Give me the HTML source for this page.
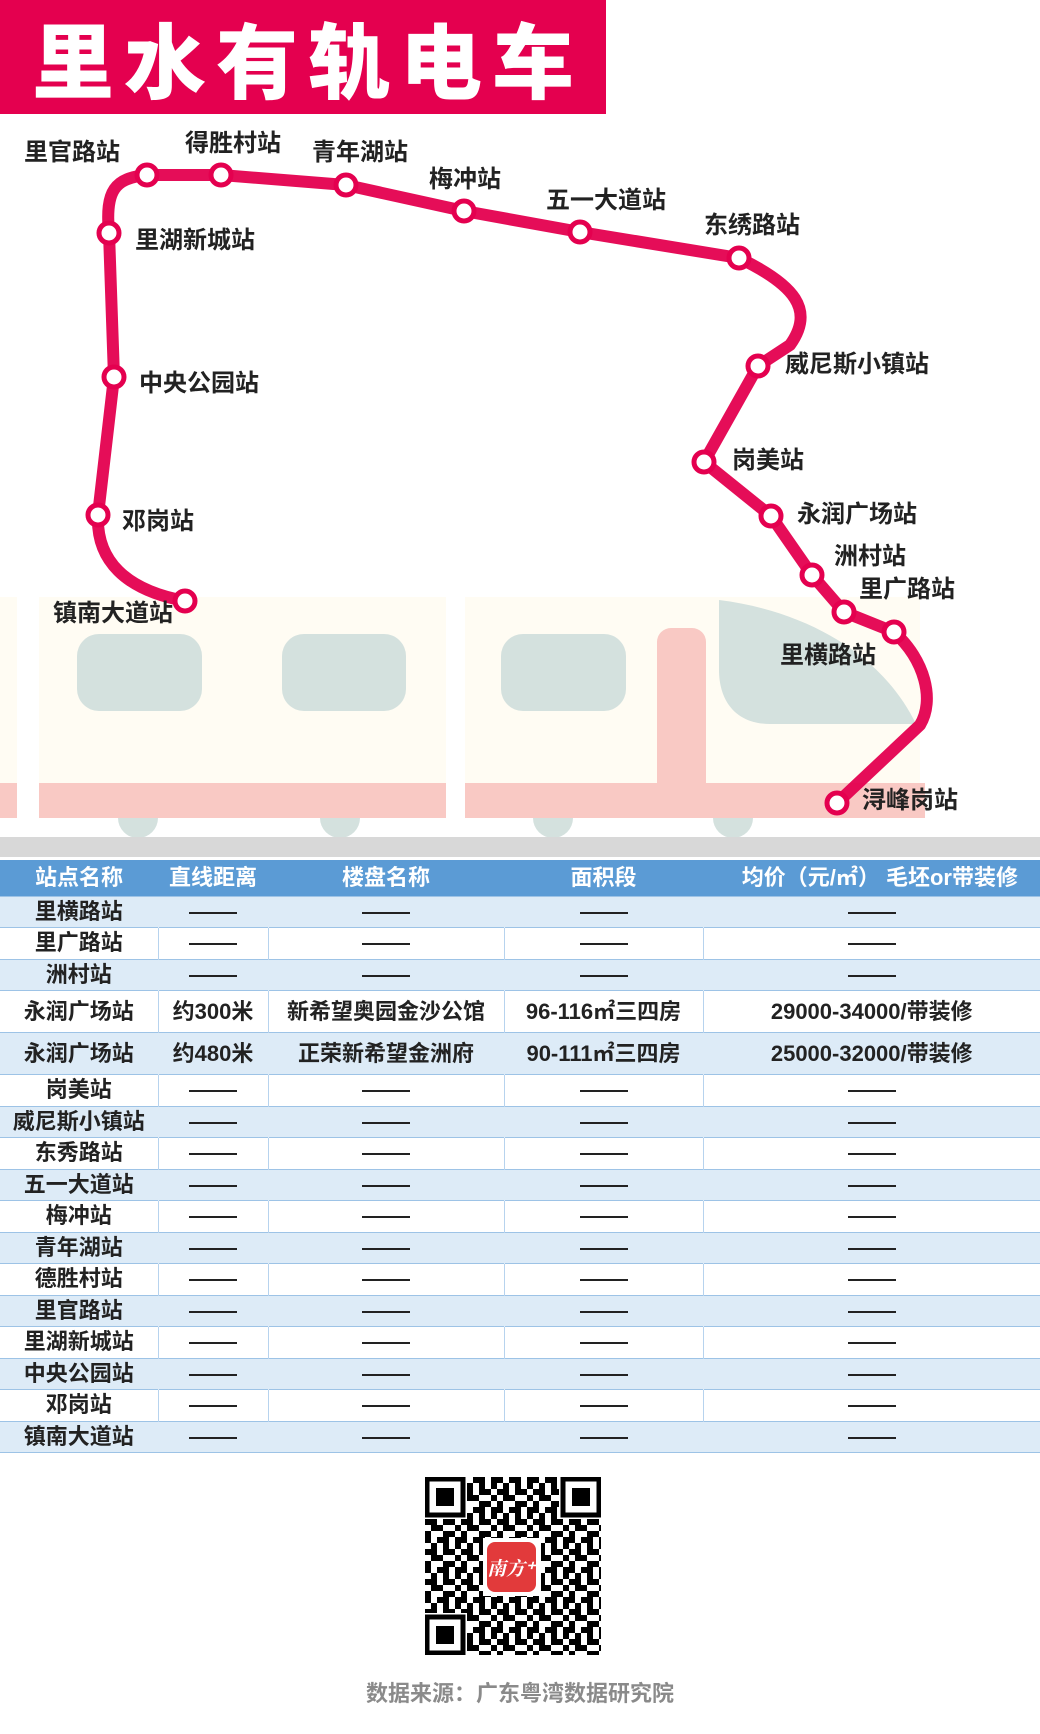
<!DOCTYPE html>
<html><head><meta charset="utf-8">
<style>
*{margin:0;padding:0;box-sizing:border-box}
body{width:1040px;height:1734px;background:#fff;position:relative;overflow:hidden;font-family:"Liberation Sans","Noto Sans CJK SC",sans-serif}
.ab{position:absolute}
.title{left:0;top:0;width:606px;height:114px;background:#e4004f;color:#fff;font-size:82px;font-weight:900;letter-spacing:10px;line-height:114px;padding-left:32px;font-family:"Noto Sans CJK SC",sans-serif}
.lb{position:absolute;font-size:24px;font-weight:bold;color:#222;line-height:24px;white-space:nowrap;font-family:"Liberation Sans","Noto Sans CJK SC",sans-serif;transform:translateY(-50%)}
table{position:absolute;left:0;top:860px;width:1040px;border-collapse:collapse;table-layout:fixed;font-weight:bold;font-size:22px;line-height:22px;color:#222;font-family:"Liberation Sans","Noto Sans CJK SC",sans-serif}
th{background:#5b9bd5;color:#fff;height:36px;font-size:22px;font-weight:bold}
tr{height:31.5px}
td{text-align:center;height:31.5px;border-top:1px solid #9dc3e6;border-left:1px solid #b7d3ee;white-space:nowrap;padding:0;overflow:hidden}
td:first-child{border-left:none}
tr.b td{background:#ddebf7;border-left-color:#ddebf7}
tr.t{height:42px}
tr.t td{height:42px}
.d{display:inline-block;width:48px;border-top:2px solid #222;vertical-align:middle}
.foot{left:0;width:1040px;top:1676px;text-align:center;font-size:22px;font-weight:bold;color:#8a8a8a}
</style></head><body>
<div class="ab title">里水有轨电车</div>

<svg class="ab" style="left:0;top:0" width="1040" height="860">
 <rect x="0" y="597" width="17" height="221" fill="#fffcf3"/>
 <rect x="39" y="597" width="407" height="221" fill="#fffcf3"/>
 <rect x="465" y="597" width="455" height="221" fill="#fffcf3"/>
 <rect x="0" y="783" width="17" height="35" fill="#f9c9c4"/>
 <rect x="39" y="783" width="407" height="35" fill="#f9c9c4"/>
 <rect x="465" y="783" width="460" height="35" fill="#f9c9c4"/>
 <rect x="657" y="628" width="49" height="190" rx="14" fill="#f9c9c4"/>
 <rect x="77" y="634" width="125" height="77" rx="22" fill="#d4e1de"/>
 <rect x="282" y="634" width="124" height="77" rx="22" fill="#d4e1de"/>
 <rect x="501" y="634" width="125" height="77" rx="22" fill="#d4e1de"/>
 <path d="M719,600 C800,610 880,650 916,724 L770,724 C735,724 719,700 719,670 Z" fill="#d4e1de"/>
 <g fill="#d4e1de">
  <path d="M118,818 a20,20 0 0 0 40,0 Z"/><path d="M320,818 a20,20 0 0 0 40,0 Z"/>
  <path d="M533,818 a20,20 0 0 0 40,0 Z"/><path d="M713,818 a20,20 0 0 0 40,0 Z"/>
 </g>
 <rect x="0" y="837" width="1040" height="20" fill="#d8d8d8"/>
 <path d="M185,601 C125,590 96,560 98,515 L114,377 L109,233 C105,190 115,178 147,175 L221,175 L346,185 L464,211 L580,232 L739,258 C795,285 815,310 790,345 L758,366 L704,462 L771,516 L812,575 L844,612 L894,632 C925,660 935,700 920,725 L837,803" fill="none" stroke="#e4004f" stroke-width="12" stroke-linejoin="round" opacity="0.95"/>
 <g fill="#fff" stroke="#e4004f" stroke-width="5">
  <circle cx="147" cy="175" r="10"/><circle cx="221" cy="175" r="10"/><circle cx="346" cy="185" r="10"/>
  <circle cx="464" cy="211" r="10"/><circle cx="580" cy="232" r="10"/><circle cx="739" cy="258" r="10"/>
  <circle cx="758" cy="366" r="10"/><circle cx="704" cy="462" r="10"/><circle cx="771" cy="516" r="10"/>
  <circle cx="812" cy="575" r="10"/><circle cx="844" cy="612" r="10"/><circle cx="894" cy="632" r="10"/>
  <circle cx="837" cy="803" r="10"/><circle cx="109" cy="233" r="10"/><circle cx="114" cy="377" r="10"/>
  <circle cx="98" cy="515" r="10"/><circle cx="185" cy="601" r="10"/>
 </g>
</svg>

<div class="lb" style="left:24px;top:153px">里官路站</div>
<div class="lb" style="left:185px;top:144px">得胜村站</div>
<div class="lb" style="left:312px;top:153px">青年湖站</div>
<div class="lb" style="left:429px;top:180px">梅冲站</div>
<div class="lb" style="left:546px;top:201px">五一大道站</div>
<div class="lb" style="left:704px;top:226px">东绣路站</div>
<div class="lb" style="left:135px;top:241px">里湖新城站</div>
<div class="lb" style="left:139px;top:384px">中央公园站</div>
<div class="lb" style="left:122px;top:522px">邓岗站</div>
<div class="lb" style="left:53px;top:614px">镇南大道站</div>
<div class="lb" style="left:785px;top:365px">威尼斯小镇站</div>
<div class="lb" style="left:732px;top:461px">岗美站</div>
<div class="lb" style="left:797px;top:515px">永润广场站</div>
<div class="lb" style="left:834px;top:557px">洲村站</div>
<div class="lb" style="left:859px;top:590px">里广路站</div>
<div class="lb" style="left:780px;top:656px">里横路站</div>
<div class="lb" style="left:862px;top:801px">浔峰岗站</div>

<table>
<colgroup><col style="width:158px"><col style="width:110px"><col style="width:236px"><col style="width:199px"><col style="width:337px"></colgroup>
<tr style="height:36px"><th>站点名称</th><th>直线距离</th><th>楼盘名称</th><th>面积段</th><th style="text-align:right;padding-right:22px">均价（元/㎡） 毛坯or带装修</th></tr>
<tr class="b"><td>里横路站</td><td><span class="d"></span></td><td><span class="d"></span></td><td><span class="d"></span></td><td><span class="d"></span></td></tr>
<tr><td>里广路站</td><td><span class="d"></span></td><td><span class="d"></span></td><td><span class="d"></span></td><td><span class="d"></span></td></tr>
<tr class="b"><td>洲村站</td><td><span class="d"></span></td><td><span class="d"></span></td><td><span class="d"></span></td><td><span class="d"></span></td></tr>
<tr class="t"><td>永润广场站</td><td>约300米</td><td>新希望奥园金沙公馆</td><td>96-116㎡三四房</td><td>29000-34000/带装修</td></tr>
<tr class="t b"><td>永润广场站</td><td>约480米</td><td>正荣新希望金洲府</td><td>90-111㎡三四房</td><td>25000-32000/带装修</td></tr>
<tr><td>岗美站</td><td><span class="d"></span></td><td><span class="d"></span></td><td><span class="d"></span></td><td><span class="d"></span></td></tr>
<tr class="b"><td>威尼斯小镇站</td><td><span class="d"></span></td><td><span class="d"></span></td><td><span class="d"></span></td><td><span class="d"></span></td></tr>
<tr><td>东秀路站</td><td><span class="d"></span></td><td><span class="d"></span></td><td><span class="d"></span></td><td><span class="d"></span></td></tr>
<tr class="b"><td>五一大道站</td><td><span class="d"></span></td><td><span class="d"></span></td><td><span class="d"></span></td><td><span class="d"></span></td></tr>
<tr><td>梅冲站</td><td><span class="d"></span></td><td><span class="d"></span></td><td><span class="d"></span></td><td><span class="d"></span></td></tr>
<tr class="b"><td>青年湖站</td><td><span class="d"></span></td><td><span class="d"></span></td><td><span class="d"></span></td><td><span class="d"></span></td></tr>
<tr><td>德胜村站</td><td><span class="d"></span></td><td><span class="d"></span></td><td><span class="d"></span></td><td><span class="d"></span></td></tr>
<tr class="b"><td>里官路站</td><td><span class="d"></span></td><td><span class="d"></span></td><td><span class="d"></span></td><td><span class="d"></span></td></tr>
<tr><td>里湖新城站</td><td><span class="d"></span></td><td><span class="d"></span></td><td><span class="d"></span></td><td><span class="d"></span></td></tr>
<tr class="b"><td>中央公园站</td><td><span class="d"></span></td><td><span class="d"></span></td><td><span class="d"></span></td><td><span class="d"></span></td></tr>
<tr><td>邓岗站</td><td><span class="d"></span></td><td><span class="d"></span></td><td><span class="d"></span></td><td><span class="d"></span></td></tr>
<tr class="b"><td style="border-bottom:1px solid #9dc3e6">镇南大道站</td><td style="border-bottom:1px solid #9dc3e6"><span class="d"></span></td><td style="border-bottom:1px solid #9dc3e6"><span class="d"></span></td><td style="border-bottom:1px solid #9dc3e6"><span class="d"></span></td><td style="border-bottom:1px solid #9dc3e6"><span class="d"></span></td></tr>
</table>

<svg class="ab" style="left:425px;top:1477px" width="176" height="178" viewBox="0 0 176 178">
 <defs>
  <pattern id="q" width="36" height="30" patternUnits="userSpaceOnUse">
   <rect x="0" y="0" width="6" height="6"/><rect x="12" y="0" width="12" height="6"/><rect x="30" y="0" width="6" height="12"/>
   <rect x="6" y="6" width="6" height="6"/><rect x="18" y="6" width="6" height="12"/>
   <rect x="0" y="12" width="12" height="6"/><rect x="24" y="12" width="6" height="6"/>
   <rect x="6" y="18" width="6" height="6"/><rect x="12" y="18" width="6" height="6"/><rect x="30" y="18" width="6" height="6"/>
   <rect x="0" y="24" width="6" height="6"/><rect x="18" y="24" width="12" height="6"/>
  </pattern>
 </defs>
 <rect x="0" y="0" width="176" height="178" fill="url(#q)"/>
 <g>
  <rect x="0" y="0" width="42" height="42" fill="#fff"/><rect x="2" y="2" width="36" height="36" fill="none" stroke="#000" stroke-width="5"/><rect x="11" y="11" width="18" height="18"/>
  <rect x="134" y="0" width="42" height="42" fill="#fff"/><rect x="138" y="2" width="36" height="36" fill="none" stroke="#000" stroke-width="5"/><rect x="147" y="11" width="18" height="18"/>
  <rect x="0" y="136" width="42" height="42" fill="#fff"/><rect x="2" y="140" width="36" height="36" fill="none" stroke="#000" stroke-width="5"/><rect x="11" y="149" width="18" height="18"/>
 </g>
 <rect x="58" y="61" width="58" height="58" fill="#fff"/>
 <rect x="62" y="65" width="49" height="50" rx="8" fill="#e23a3b"/>
 <text x="86" y="98" font-size="19" font-weight="bold" fill="#fff" text-anchor="middle" font-family="Noto Serif CJK SC,serif" font-style="italic">南方⁺</text>
</svg>

<div class="ab foot">数据来源：广东粤湾数据研究院</div>
</body></html>
